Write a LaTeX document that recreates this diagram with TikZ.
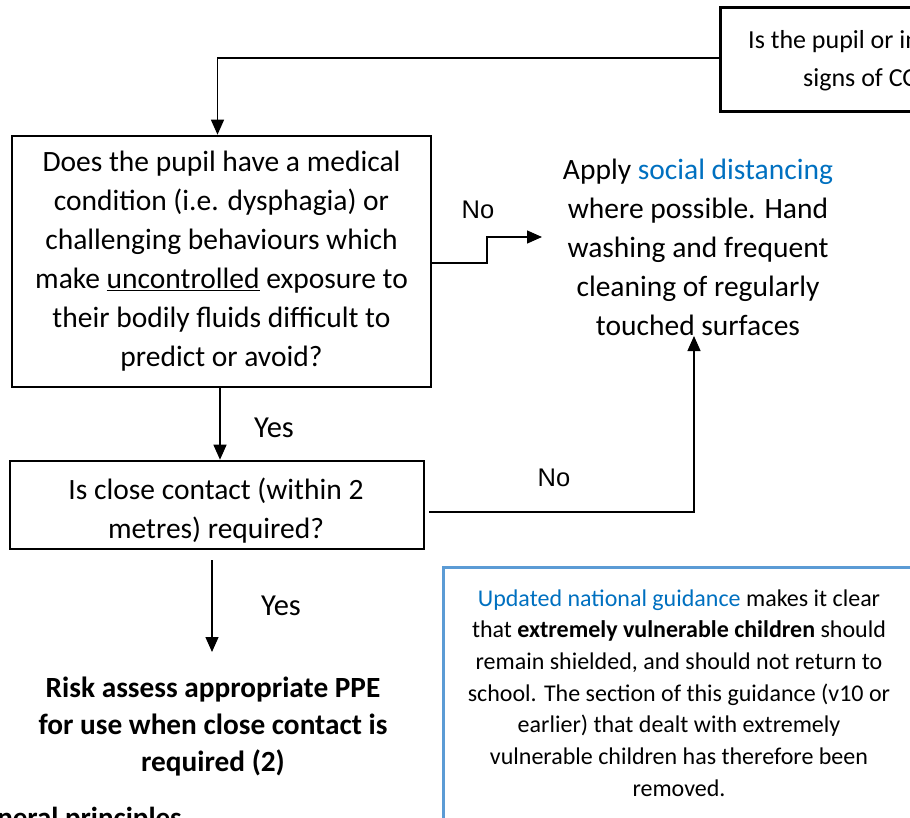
\documentclass[tikz,border=0pt]{standalone}
\usepackage{fontspec}
\setmainfont{Carlito}
\newfontfamily\labelfont{Liberation Sans}
\usetikzlibrary{arrows.meta}
\definecolor{linkblue}{HTML}{0070C0}
\definecolor{boxblue}{HTML}{5B9BD5}
\tikzset{
  flowbox/.style={draw, line width=2.6pt, align=flush center, inner sep=0pt, font=\fontsize{29.5}{39}\selectfont},
  plaintext/.style={align=flush center, inner sep=0pt, font=\fontsize{29.5}{39}\selectfont},
  nolbl/.style={inner sep=0pt, font=\labelfont\fontsize{25.5}{28}\selectfont},
  yeslbl/.style={inner sep=0pt, font=\fontsize{30.5}{32}\selectfont},
  arr/.style={line width=1.3pt, -{Triangle[length=15pt,width=13pt]}},
  conn/.style={line width=1.3pt}
}
\begin{document}
\begin{tikzpicture}[x=1pt,y=-1pt]
\useasboundingbox (0,0) rectangle (910,818);
\clip (0,0) rectangle (910,818);
% top box (cut off)
\node[draw, line width=2.8pt, minimum width=230pt, minimum height=104pt, anchor=north west, inner sep=0pt] (top) at (719,6) {};
\node[inner sep=0pt, font=\fontsize{26}{38}\selectfont, anchor=west] (topl1) at (748,42) {Is the pupil or individual displaying};
\node[inner sep=0pt, font=\fontsize{26}{38}\selectfont, anchor=west] (topl2) at (803,80) {signs of COVID-19?};
% box 1
\node[flowbox, minimum width=419pt, minimum height=251pt, text width=410pt] (box1) at (221.5,261.5)
 {Does the pupil have a medical\\condition (i.e. dysphagia) or\\challenging behaviours which\\make \underline{uncontrolled} exposure to\\their bodily fluids difficult to\\predict or avoid?};
% social distancing text
\node[plaintext] (social) at (698,247)
 {Apply \textcolor{linkblue}{social distancing}\\where possible. Hand\\washing and frequent\\cleaning of regularly\\touched surfaces};
% box 2
\node[draw, line width=2.6pt, inner sep=0pt, minimum width=414pt, minimum height=88pt] (box2) at (217,505) {};
\node[plaintext] (box2t) at (216,511) {Is close contact (within 2\\metres) required?};
% PPE text
\node[align=flush center, inner sep=0pt, font=\fontsize{29.3}{37}\selectfont\bfseries] (ppe) at (213,727)
 {Risk assess appropriate PPE\\for use when close contact is\\required (2)};
% blue box
\draw[boxblue, line width=3pt] (443,840) -- (443,567) -- (930,567);
\node[align=flush center, inner sep=0pt, font=\fontsize{24}{31.7}\selectfont] (note) at (679,693)
 {\textcolor{linkblue}{Updated national guidance} makes it clear\\that \textbf{extremely vulnerable children} should\\remain shielded, and should not return to\\school. The section of this guidance (v10 or\\earlier) that dealt with extremely\\vulnerable children has therefore been\\removed.};
% partial heading
\node[anchor=base east, inner sep=0pt, font=\fontsize{29}{30}\selectfont\bfseries] (gp) at (182,827) {General principles};
% coordinates
\coordinate (c1a) at (487,263);
\coordinate (c1b) at (487,237);
\coordinate (noin) at (542,237);
\coordinate (c2) at (694,512);
\coordinate (socin) at (694,336);
\coordinate (ppein) at (212,652);
% connectors
\draw[arr] (top.west |- 0,58) -| ([xshift=-4pt]box1.north);
\draw[arr] (box1.east |- c1a) -- (c1a) -- (c1b) -- (noin);
\draw[arr] ([xshift=4pt]box2.east |- c2) -- (c2) -- (socin);
\draw[arr] ([xshift=-1.5pt]box1.south) -- ([xshift=-1.5pt]box1.south |- box2.north);
\draw[arr] ([yshift=-10pt,xshift=-5pt]box2.south) -- (ppein);
% labels
\node[nolbl] (no1) at (478,210) {No};
\node[nolbl] (no2) at (554,478) {No};
\node[yeslbl] (yes1) at (274,428) {Yes};
\node[yeslbl] (yes2) at (281,606) {Yes};
\end{tikzpicture}
\end{document}
